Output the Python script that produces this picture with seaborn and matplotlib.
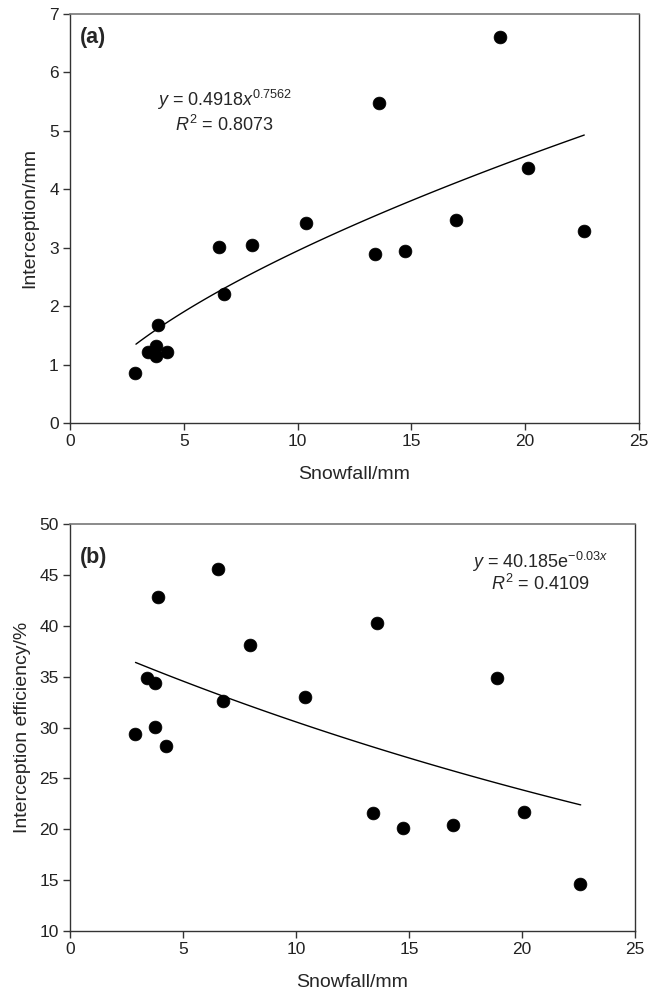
import numpy as np
import pandas as pd
import matplotlib
matplotlib.use("Agg")
import matplotlib.pyplot as plt
import seaborn as sns

# snowfall events (mm) and measured canopy interception
snowfall = [2.87, 3.42, 3.76, 3.76, 3.89, 4.27, 6.57, 6.77, 7.98, 10.38,
            13.40, 13.58, 14.73, 16.97, 18.89, 20.11, 22.59]
interception = [0.86, 1.21, 1.31, 1.14, 1.67, 1.21, 3.01, 2.21, 3.05, 3.43,
                2.90, 5.48, 2.95, 3.47, 6.60, 4.36, 3.29]
efficiency = [29.4, 34.9, 30.1, 34.4, 42.8, 28.2, 45.6, 32.6, 38.1, 33.0,
              21.6, 40.3, 20.1, 20.4, 34.9, 21.7, 14.6]

# fitted curves as drawn on the figure
fit_range = (2.9, 22.6)
pow_a, pow_b = 0.689, 0.631
exp_a, exp_k = 39.1, -0.02465

sns.set_style("ticks")
plt.rcParams["font.family"] = ["Liberation Sans", "DejaVu Sans"]
plt.rcParams["mathtext.fontset"] = "custom"
plt.rcParams["mathtext.rm"] = "Liberation Sans"
plt.rcParams["mathtext.it"] = "Liberation Sans:italic"

df = pd.DataFrame({"snowfall": snowfall, "interception": interception,
                   "efficiency": efficiency})
xs = np.linspace(fit_range[0], fit_range[1], 100)
fits = pd.DataFrame({"x": xs,
                     "pow": pow_a * xs ** pow_b,
                     "exp": exp_a * np.exp(exp_k * xs)})

fig = plt.figure(figsize=(6.6, 9.89), dpi=100)
ax1 = fig.add_axes([0.106, 0.5723, 0.862, 0.4136])
ax2 = fig.add_axes([0.106, 0.0586, 0.856, 0.4115])


def style_axis(ax):
    for side in ["left", "bottom", "right"]:
        ax.spines[side].set_color("#333333")
        ax.spines[side].set_linewidth(1.0)
    ax.spines["top"].set_color("#777777")
    ax.spines["top"].set_linewidth(1.2)
    ax.tick_params(direction="out", length=5, width=1, color="#333333",
                   labelsize=12.5, pad=3, labelcolor="#222222")
    ax.set_xlim(0, 25)
    ax.set_xticks([0, 5, 10, 15, 20, 25])


sns.scatterplot(data=df, x="snowfall", y="interception", ax=ax1,
                color="black", s=85, edgecolor="black", linewidth=0.5)
sns.lineplot(data=fits, x="x", y="pow", ax=ax1, color="black", lw=1)
style_axis(ax1)
ax1.set_ylim(0, 7)
ax1.set_yticks(range(0, 8))
ax1.set_xlabel("Snowfall/mm", fontsize=14, labelpad=12)
ax1.set_ylabel("Interception/mm", fontsize=14, labelpad=8)
ax1.text(0.45, 6.5, "(a)", fontsize=15.5, fontweight="bold")
ax1.text(6.8, 5.53, r"$y$ = 0.4918$x^{0.7562}$", fontsize=13, ha="center", va="center")
ax1.text(6.8, 5.1, r"$R^2$ = 0.8073", fontsize=13, ha="center", va="center")

sns.scatterplot(data=df, x="snowfall", y="efficiency", ax=ax2,
                color="black", s=85, edgecolor="black", linewidth=0.5)
sns.lineplot(data=fits, x="x", y="exp", ax=ax2, color="black", lw=1)
style_axis(ax2)
ax2.set_ylim(10, 50)
ax2.set_yticks(range(10, 55, 5))
ax2.set_xlabel("Snowfall/mm", fontsize=14, labelpad=12)
ax2.set_ylabel("Interception efficiency/%", fontsize=14, labelpad=6)
ax2.text(0.45, 46.2, "(b)", fontsize=15.5, fontweight="bold")
ax2.text(20.8, 46.3, r"$y$ = 40.185e$^{-0.03x}$", fontsize=13, ha="center", va="center")
ax2.text(20.8, 44.1, r"$R^2$ = 0.4109", fontsize=13, ha="center", va="center")

fig.savefig("out.png", dpi=100)
